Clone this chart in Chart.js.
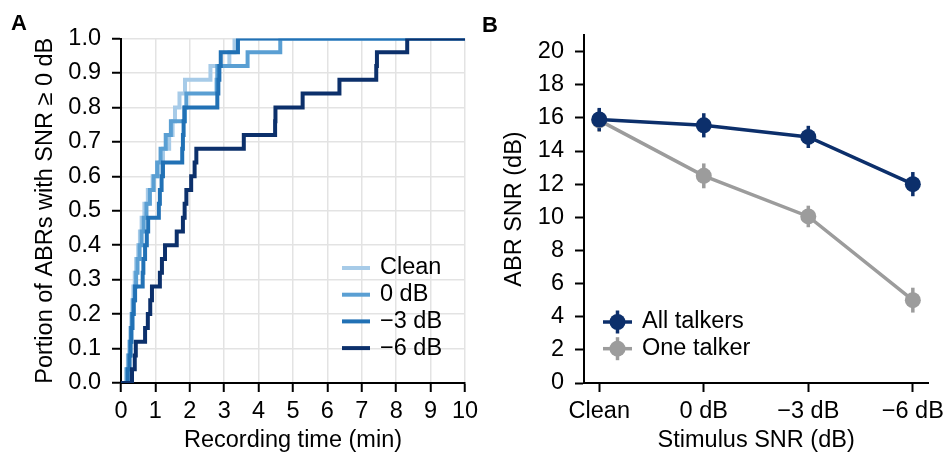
<!DOCTYPE html>
<html>
<head>
<meta charset="utf-8">
<title>ABR SNR</title>
<script src="https://cdn.jsdelivr.net/npm/chart.js@4.4.0/dist/chart.umd.min.js"></script>
<style>
    html, body { margin: 0; padding: 0; background: #fff; }
    #wrap { position: relative; width: 943px; height: 456px; overflow: hidden; font-family: "Liberation Sans", Arial, sans-serif; }
    .panel { position: absolute; top: 0; }
    #panelA { left: 0; }
    #panelB { left: 480px; }
    .tag { position: absolute; font-weight: bold; font-size: 22px; line-height: 22px; color: #000; }
</style>
</head>
<body>
<div id="wrap">
    <div class="panel" id="panelA"><canvas id="chartA" width="480" height="456"></canvas></div>
    <div class="panel" id="panelB"><canvas id="chartB" width="463" height="456"></canvas></div>
    <div class="tag" style="left:11px; top:12px;">A</div>
    <div class="tag" style="left:482px; top:14px;">B</div>
</div>

<script>
// ---- panel A: cumulative portion of ABRs reaching SNR >= 0 dB ----
var conditionNames = ['Clean', '0 dB', '\u22123 dB', '\u22126 dB'];
var conditionColors = ['#a7cbe8', '#5a9fd3', '#2171b5', '#0c306b'];

// portion levels (25 ABRs), shared by every condition
var portionLevels = [0, 0.04, 0.08, 0.12, 0.16, 0.20, 0.24, 0.28, 0.32, 0.36, 0.40, 0.44, 0.48,
    0.52, 0.56, 0.60, 0.64, 0.68, 0.72, 0.76, 0.80, 0.84, 0.88, 0.92, 0.96, 1.00, 1.00];

// recording time (min) at which each level is reached
var cleanTimes = [0, 0.15, 0.20, 0.24, 0.27, 0.30, 0.33, 0.36, 0.40, 0.44, 0.50, 0.55, 0.60,
    0.68, 0.78, 0.92, 1.12, 1.22, 1.40, 1.50, 1.57, 1.70, 1.86, 2.60, 3.15, 3.30, 10];
var zeroDbTimes = [0, 0.17, 0.22, 0.26, 0.30, 0.33, 0.36, 0.40, 0.44, 0.48, 0.54, 0.60, 0.66,
    0.74, 0.84, 0.95, 1.05, 1.15, 1.30, 1.45, 1.86, 1.90, 2.78, 2.80, 3.68, 4.63, 10];
var minus3DbTimes = [0, 0.20, 0.25, 0.28, 0.30, 0.33, 0.37, 0.41, 0.63, 0.65, 0.70, 0.75, 0.79,
    1.10, 1.13, 1.18, 1.22, 1.78, 1.80, 1.82, 1.84, 2.80, 2.83, 2.86, 2.90, 3.40, 10];
var minus6DbTimes = [0, 0.32, 0.40, 0.43, 0.70, 0.78, 0.85, 0.90, 1.13, 1.19, 1.28, 1.62, 1.80,
    1.85, 1.90, 2.04, 2.14, 2.19, 3.57, 4.48, 4.49, 5.28, 6.35, 7.42, 7.44, 8.32, 10];

var timeTicks = [0, 1, 2, 3, 4, 5, 6, 7, 8, 9, 10];

// ---- panel B: ABR SNR by stimulus SNR ----
var stimulusLabels = ['Clean', '0 dB', '\u22123 dB', '\u22126 dB'];
var talkerNames = ['All talkers', 'One talker'];
var talkerColors = ['#0c2f6b', '#9c9c9c'];
var allTalkersSnr = [15.9, 15.55, 14.85, 12.0];
var allTalkersErr = [0.70, 0.73, 0.67, 0.73];
var oneTalkerSnr = [15.85, 12.5, 10.05, 5.0];
var oneTalkerErr = [0.70, 0.75, 0.65, 0.75];

var FONT = '"Liberation Sans", Arial, sans-serif';
var FS = 23.5;
Chart.defaults.font.family = FONT;
Chart.defaults.font.size = FS;
Chart.defaults.color = '#000';

function toPoints(xs, ys) {
    return xs.map(function (x, i) { return { x: x, y: ys[i] }; });
}

// legend drawn inside the plot area
var panelLegend = {
    id: 'panelLegend',
    afterDatasetsDraw: function (chart, args, opts) {
        if (!opts.items) return;
        var ctx = chart.ctx;
        ctx.save();
        ctx.font = FS + 'px ' + FONT;
        ctx.textBaseline = 'middle';
        opts.items.forEach(function (item, i) {
            var y = opts.y + i * opts.gap;
            ctx.strokeStyle = item.color;
            ctx.lineWidth = opts.lineWidth;
            ctx.beginPath();
            ctx.moveTo(opts.x, y);
            ctx.lineTo(opts.x + opts.len, y);
            ctx.stroke();
            if (opts.marker) {
                var cx = opts.x + opts.len / 2;
                ctx.beginPath();
                ctx.moveTo(cx, y - opts.bar);
                ctx.lineTo(cx, y + opts.bar);
                ctx.stroke();
                ctx.fillStyle = item.color;
                ctx.beginPath();
                ctx.arc(cx, y, opts.marker, 0, Math.PI * 2);
                ctx.fill();
            }
            ctx.fillStyle = '#000';
            ctx.fillText(item.text, opts.x + opts.len + opts.textGap, y);
        });
        ctx.restore();
    }
};

// vertical error bars from dataset.errors
var errorBars = {
    id: 'errorBars',
    beforeDatasetsDraw: function (chart, args, opts) {
        var ctx = chart.ctx, xs = chart.scales.x, ys = chart.scales.y;
        ctx.save();
        ctx.lineWidth = opts.width || 3;
        for (var d = chart.data.datasets.length - 1; d >= 0; d--) {
            var ds = chart.data.datasets[d];
            if (!ds.errors) continue;
            ctx.strokeStyle = ds.borderColor;
            ds.data.forEach(function (p, i) {
                var x = xs.getPixelForValue(p.x);
                ctx.beginPath();
                ctx.moveTo(x, ys.getPixelForValue(p.y - ds.errors[i]));
                ctx.lineTo(x, ys.getPixelForValue(p.y + ds.errors[i]));
                ctx.stroke();
            });
        }
        ctx.restore();
    }
};

function axisStyle(extra) {
    var base = {
        border: { color: '#000', width: 2 },
        ticks: { color: '#000', font: { size: FS } },
        title: { display: true, color: '#000', font: { size: FS } }
    };
    return Object.assign(base, extra);
}

// ---------- chart A ----------
var stepSeries = [cleanTimes, zeroDbTimes, minus3DbTimes, minus6DbTimes];
var datasetsA = stepSeries.map(function (times, i) {
    return {
        label: conditionNames[i],
        data: toPoints(times, portionLevels),
        borderColor: conditionColors[i],
        borderWidth: 4,
        stepped: 'before',
        pointRadius: 0,
        fill: false,
        order: 4 - i
    };
});

var chartA = new Chart(document.getElementById('chartA'), {
    type: 'line',
    data: { datasets: datasetsA },
    options: {
        responsive: false,
        animation: false,
        devicePixelRatio: 1,
        layout: { padding: { left: 0, top: 38.5, right: 15, bottom: 0 } },
        plugins: {
            legend: { display: false },
            tooltip: { enabled: false },
            panelLegend: {
                items: conditionNames.map(function (n, i) { return { text: n, color: conditionColors[i] }; }),
                x: 342, y: 268, gap: 26.7, len: 28, textGap: 10, lineWidth: 4
            }
        },
        scales: {
            x: axisStyle({
                type: 'linear',
                min: 0,
                max: 10,
                afterBuildTicks: function (s) { s.ticks = timeTicks.map(function (v) { return { value: v }; }); },
                ticks: { color: '#000', font: { size: FS }, padding: 5, maxRotation: 0, autoSkip: false },
                grid: { color: '#e3e3e3', lineWidth: 1.5, tickColor: '#000', tickLength: 9, tickWidth: 2 },
                title: { display: true, text: 'Recording time (min)', color: '#000', font: { size: FS }, padding: { top: 0, bottom: 1 } },
                afterFit: function (s) { s.height = 73; s.paddingLeft = 0; s.paddingRight = 0; }
            }),
            y: axisStyle({
                type: 'linear',
                min: 0,
                max: 1,
                ticks: {
                    color: '#000', font: { size: FS }, padding: 11, stepSize: 0.1, autoSkip: false,
                    callback: function (v) { return v.toFixed(1); }
                },
                grid: { color: '#e3e3e3', lineWidth: 1.5, tickColor: '#000', tickLength: 9, tickWidth: 2 },
                title: { display: true, text: 'Portion of ABRs with SNR \u2265 0 dB', color: '#000', font: { size: FS }, padding: { top: 31, bottom: 0 } },
                afterFit: function (s) { s.width = 121; s.paddingTop = 0; s.paddingBottom = 0; }
            })
        }
    },
    plugins: [panelLegend]
});

// ---------- chart B ----------
var datasetsB = [
    { label: talkerNames[0], data: toPoints([0, 1, 2, 3], allTalkersSnr), errors: allTalkersErr, borderColor: talkerColors[0] },
    { label: talkerNames[1], data: toPoints([0, 1, 2, 3], oneTalkerSnr), errors: oneTalkerErr, borderColor: talkerColors[1] }
].map(function (ds) {
    ds.backgroundColor = ds.borderColor;
    ds.pointBackgroundColor = ds.borderColor;
    ds.pointBorderWidth = 0;
    ds.pointRadius = 8;
    ds.borderWidth = 3.5;
    ds.fill = false;
    return ds;
});

var chartB = new Chart(document.getElementById('chartB'), {
    type: 'line',
    data: { datasets: datasetsB },
    options: {
        responsive: false,
        animation: false,
        devicePixelRatio: 1,
        layout: { padding: { left: 0, top: 35, right: 14.7, bottom: 0 } },
        plugins: {
            legend: { display: false },
            tooltip: { enabled: false },
            errorBars: { width: 3.5 },
            panelLegend: {
                items: talkerNames.map(function (n, i) { return { text: n, color: talkerColors[i] }; }),
                x: 123, y: 322, gap: 26.7, len: 29, textGap: 10, lineWidth: 3.5, marker: 8, bar: 11.5
            }
        },
        scales: {
            x: axisStyle({
                type: 'linear',
                min: -0.146,
                max: 3.148,
                afterBuildTicks: function (s) { s.ticks = stimulusLabels.map(function (l, i) { return { value: i }; }); },
                ticks: {
                    color: '#000', font: { size: FS }, padding: 5, maxRotation: 0, autoSkip: false,
                    callback: function (v) { return stimulusLabels[v]; }
                },
                grid: { drawOnChartArea: false, tickColor: '#000', tickLength: 9, tickWidth: 2 },
                title: { display: true, text: 'Stimulus SNR (dB)', color: '#000', font: { size: FS }, padding: { top: 0, bottom: 1 } },
                afterFit: function (s) { s.height = 73; s.paddingLeft = 0; s.paddingRight = 0; }
            }),
            y: axisStyle({
                type: 'linear',
                min: 0,
                max: 21,
                ticks: { color: '#000', font: { size: FS }, padding: 11, stepSize: 2, includeBounds: false, autoSkip: false },
                grid: { drawOnChartArea: false, tickColor: '#000', tickLength: 9, tickWidth: 2 },
                title: { display: true, text: 'ABR SNR (dB)', color: '#000', font: { size: FS }, padding: { top: 20, bottom: 0 } },
                afterFit: function (s) { s.width = 104; s.paddingTop = 0; s.paddingBottom = 0; }
            })
        }
    },
    plugins: [errorBars, panelLegend]
});
</script>
</body>
</html>
